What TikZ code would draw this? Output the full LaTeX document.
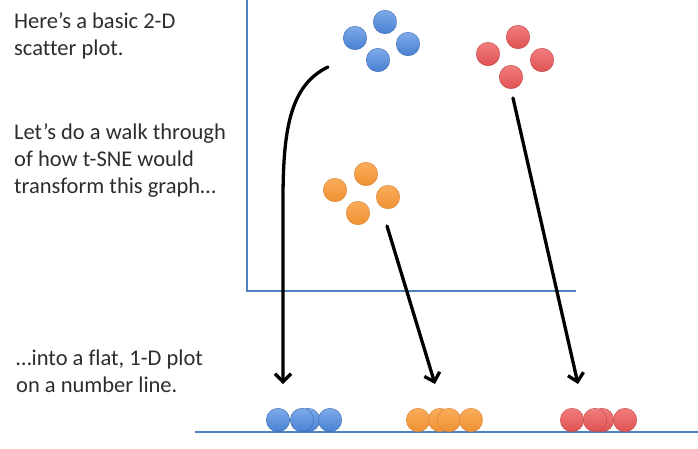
\documentclass[tikz,border=0pt]{standalone}
\usepackage{fontspec}
\setmainfont{Carlito}[Ligatures={NoCommon}]
\usetikzlibrary{arrows.meta}
\definecolor{axisblue}{RGB}{79,129,189}
\definecolor{txt}{RGB}{45,45,45}
\tikzset{
  dotblue/.style={circle,minimum size=23.5pt,inner sep=0pt,top color={rgb,255:red,125;green,170;blue,232},bottom color={rgb,255:red,72;green,128;blue,210},draw={rgb,255:red,60;green,105;blue,175},line width=0.4pt},
  dotred/.style={circle,minimum size=23.5pt,inner sep=0pt,top color={rgb,255:red,242;green,125;blue,125},bottom color={rgb,255:red,222;green,82;blue,82},draw={rgb,255:red,190;green,70;blue,70},line width=0.4pt},
  dotorange/.style={circle,minimum size=23.5pt,inner sep=0pt,top color={rgb,255:red,250;green,172;blue,92},bottom color={rgb,255:red,240;green,145;blue,50},draw={rgb,255:red,215;green,130;blue,50},line width=0.4pt},
  axis/.style={draw=axisblue,line width=1.8pt},
  mapsto/.style={draw=black,line width=3.3pt,line cap=round,-{Straight Barb[length=8pt,width=16pt,line width=3.3pt]}},
  lbl/.style={anchor=west,align=left,text=txt,font=\fontsize{22.5}{27}\selectfont,inner sep=0pt}
}
\begin{document}
\begin{tikzpicture}[x=1pt,y=-1pt]
\useasboundingbox (0,0) rectangle (698,448);
% axes
\coordinate (ytop) at (247,0);
\coordinate (orig) at (247,291);
\coordinate (xend) at (576,291);
\draw[axis] (ytop) -- (orig) -- (xend);
% number line
\coordinate (nl0) at (195,432);
\coordinate (nl1) at (698,432);
\draw[axis] (nl0) -- (nl1);
% texts
\node[lbl] (t1) at (14,36) {Here’s a basic 2-D\\scatter plot.};
\node[lbl] (t2) at (14,160) {Let’s do a walk through\\of how t-SNE would\\transform this graph…};
\node[lbl] (t3) at (16,371) {…into a flat, 1-D plot\\on a number line.};
% blue cluster
\node[dotblue] (b1) at (355,38) {};
\node[dotblue] (b2) at (385,22) {};
\node[dotblue] (b3) at (408,44) {};
\node[dotblue] (b4) at (378,60) {};
% red cluster
\node[dotred] (r1) at (488,54) {};
\node[dotred] (r2) at (518,37) {};
\node[dotred] (r3) at (542,60) {};
\node[dotred] (r4) at (511,77) {};
% orange cluster
\node[dotorange] (o1) at (335,190) {};
\node[dotorange] (o2) at (366,174) {};
\node[dotorange] (o3) at (388,197) {};
\node[dotorange] (o4) at (358,213) {};
% bottom dots
\node[dotblue] (bb1) at (278,420) {};
\node[dotblue] (bb2) at (308,420) {};
\node[dotblue] (bb3) at (302,420) {};
\node[dotblue] (bb4) at (330,420) {};
\node[dotorange] (ob1) at (418,420) {};
\node[dotorange] (ob2) at (440,420) {};
\node[dotorange] (ob3) at (449,420) {};
\node[dotorange] (ob4) at (471,420) {};
\node[dotred] (rb1) at (572,420) {};
\node[dotred] (rb2) at (602,420) {};
\node[dotred] (rb3) at (595,420) {};
\node[dotred] (rb4) at (625,420) {};
% arrows
\coordinate (ab0) at (328,67);
\coordinate (ab1) at (283,384);
\coordinate (ao0) at (387,226);
\coordinate (ao1) at (435,384);
\coordinate (ar0) at (513,98);
\coordinate (ar1) at (578,384);
\draw[mapsto] (ab0) .. controls (290,85) and (283,130) .. (283,200) -- (ab1);
\draw[mapsto] (ao0) -- (ao1);
\draw[mapsto] (ar0) -- (ar1);
\end{tikzpicture}
\end{document}
